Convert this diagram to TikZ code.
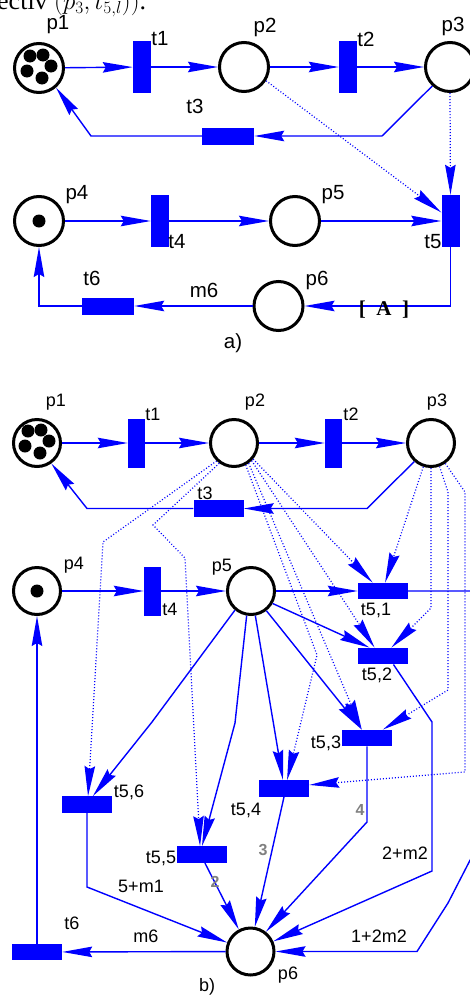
\documentclass[tikz,border=0pt]{standalone}
\usepackage{fontspec}
\setmainfont{Liberation Sans}
\newfontfamily\serifA{Liberation Serif}
\usetikzlibrary{arrows.meta,calc}
\definecolor{pblue}{RGB}{0,0,255}
\definecolor{lgrey}{RGB}{128,128,128}
\begin{document}
\begin{tikzpicture}[x=1pt,y=-1pt,
  placeA/.style={circle, draw=black, line width=3pt, minimum size=49pt, inner sep=0pt},
  placeB/.style={circle, draw=black, line width=3pt, minimum size=47pt, inner sep=0pt},
  vtransA/.style={rectangle, fill=pblue, minimum width=18pt, minimum height=52pt, inner sep=0pt},
  htransA/.style={rectangle, fill=pblue, minimum width=52pt, minimum height=17pt, inner sep=0pt},
  vtransB/.style={rectangle, fill=pblue, minimum width=17pt, minimum height=49pt, inner sep=0pt},
  htransB/.style={rectangle, fill=pblue, minimum width=50pt, minimum height=16.5pt, inner sep=0pt},
  tok/.style={circle, fill=black, minimum size=13pt, inner sep=0pt},
  arc/.style={draw=pblue, line width=1.4pt, -{Stealth[length=30pt,width=10.5pt,inset=3pt]}},
  darc/.style={arc, line width=1.2pt, dash pattern=on 1pt off 2pt},
  labA/.style={font=\fontsize{20.5}{24}\selectfont, inner sep=0pt},
  labB/.style={font=\fontsize{18}{21}\selectfont, inner sep=0pt},
  num/.style={font=\fontsize{16}{19}\selectfont\bfseries, text=lgrey, inner sep=0pt}]
\useasboundingbox (0,0) rectangle (470,996);

% cut-off header text
\node[font=\fontsize{26}{30}\selectfont\serifA, anchor=base west, inner sep=0pt] (hdr) at (-3,9.5) {ectiv $(p_3, t_{5,l}))$.};

% ---------------- part a ----------------
\node[placeA] (ap1) at (39,68) {};
\node[vtransA] (at1) at (142,67) {};
\node[placeA] (ap2) at (244,67) {};
\node[vtransA] (at2) at (348,67) {};
\node[placeA] (ap3) at (450,67) {};
\node[htransA] (at3) at (228,136) {};
\node[placeA] (ap4) at (39,221) {};
\node[vtransA] (at4) at (160,221) {};
\node[placeA] (ap5) at (295,221) {};
\node[vtransA] (at5) at (450.5,221) {};
\node[placeA] (ap6) at (278.5,306) {};
\node[htransA] (at6) at (108,306) {};

\node[tok] (ak1) at ($(ap1)+(-9,-12)$) {};
\node[tok] (ak2) at ($(ap1)+(4,-13)$) {};
\node[tok] (ak3) at ($(ap1)+(12,-2)$) {};
\node[tok] (ak4) at ($(ap1)+(-12,3)$) {};
\node[tok] (ak5) at ($(ap1)+(3,10)$) {};
\node[tok] (ak6) at (ap4) {};

\draw[arc] (ap1) -- (at1);
\draw[arc] (at1) -- (ap2);
\draw[arc] (ap2) -- (at2);
\draw[arc] (at2) -- (ap3);
\draw[arc] (ap3.227) -- (382,136) -- (at3.east);
\draw[arc] (at3.west) -- (91,136) -- (ap1.311);
\draw[arc] (ap4) -- (at4);
\draw[arc] (at4) -- (ap5);
\draw[arc] (ap5) -- (at5);
\draw[darc] (ap2.328) -- (at5.137);
\draw[darc] (ap3.south) -- (at5.north);
\draw[arc] (at5.south) |- (ap6.east);
\draw[arc] (ap6) -- (at6);
\draw[arc] (at6.west) -| (ap4.south);

\node[labA] (lap1) at (58,25) {p1};
\node[labA] (lat1) at (160,39) {t1};
\node[labA] (lap2) at (265,27) {p2};
\node[labA] (lat2) at (366,39) {t2};
\node[labA] (lap3) at (453,26) {p3};
\node[labA] (lat3) at (195,106) {t3};
\node[labA] (lap4) at (77,195) {p4};
\node[labA] (lat4) at (177,242) {t4};
\node[labA] (lap5) at (333,195) {p5};
\node[labA] (lat5) at (433,242) {t5};
\node[labA] (lat6) at (92,278) {t6};
\node[labA] (lam6) at (204,290) {m6};
\node[labA] (lap6) at (317,280) {p6};
\node[font=\fontsize{21}{25}\selectfont\serifA\bfseries, inner sep=0pt] (lA) at (384,310) {[\enspace A\enspace]};
\node[labA] (la) at (233,343) {a)};

% ---------------- part b ----------------
\node[placeB] (bp1) at (37,443) {};
\node[vtransB] (bt1) at (136.5,443) {};
\node[placeB] (bp2) at (234,443) {};
\node[vtransB] (bt2) at (333.5,443) {};
\node[placeB] (bp3) at (431,443) {};
\node[htransB] (bt3) at (218.5,508.5) {};
\node[placeB] (bp4) at (37,591) {};
\node[vtransB] (bt4) at (152.5,591) {};
\node[placeB] (bp5) at (251,591) {};
\node[htransB] (bt51) at (383,591) {};
\node[htransB] (bt52) at (383,656) {};
\node[htransB] (bt53) at (367,738) {};
\node[htransB] (bt54) at (284,788.5) {};
\node[htransB] (bt55) at (202,854.5) {};
\node[htransB] (bt56) at (87,804.5) {};
\node[placeB] (bp6) at (250.5,951.5) {};
\node[htransB] (bt6) at (37,952) {};

\node[tok] (bk1) at ($(bp1)+(-9,-12)$) {};
\node[tok] (bk2) at ($(bp1)+(4,-13)$) {};
\node[tok] (bk3) at ($(bp1)+(12,-2)$) {};
\node[tok] (bk4) at ($(bp1)+(-12,3)$) {};
\node[tok] (bk5) at ($(bp1)+(3,10)$) {};
\node[tok] (bk6) at (bp4) {};

\draw[arc] (bp1) -- (bt1);
\draw[arc] (bt1) -- (bp2);
\draw[arc] (bp2) -- (bt2);
\draw[arc] (bt2) -- (bp3);
\draw[arc] (bp3.228) -- (367,508.5) -- (bt3.east);
\draw[arc] (bt3.west) -- (87,508.5) -- (bp1.305);
\draw[arc] (bp4) -- (bt4);
\draw[arc] (bt4) -- (bp5);
\draw[arc] (bp5) -- (bt51);
\draw[arc] (bp5.330) -- (bt52.148);
\draw[arc] (bp5.308) -- (bt53.122);
\draw[arc] (bp5.280) -- (bt54.97);
\draw[arc] (bp5.260) -- (235,723) -- (bt55.north);
\draw[arc] (bp5.230) -- (152,722) -- (bt56.55);

\draw[arc] (bt56.south) -- (87,887) -- (bp6.159);
\draw[arc] (bt55.289) -- (bp6.118);
\draw[arc] (bt54.south) -- (bp6.80);
\draw[arc] (bt53.south) -- (367,822) -- (bp6.52);
\draw[arc] (bt52.321) -- (432,722) -- (432,871) -- (bp6.24);
\draw[arc] (bt51.east) -- (482,591) -- (482,837) -- (448,903) -- (417,951.5) -- (bp6.east);
\draw[arc] (bp6) -- (bt6);
\draw[arc] (bt6.north) -- (bp4.south);

\draw[darc] (bp2.226) -- (103,542) -- (bt56.83);
\draw[darc] (bp2.234) -- (153,525) -- (185,558) -- (bt55.103);
\draw[darc] (bp2.298) -- (317,655) -- (bt54.70);
\draw[darc] (bp2.306) -- (bt53.122);
\draw[darc] (bp2.315) -- (bt52.135);
\draw[darc] (bp2.320) -- (bt51.141);
\draw[darc] (bp3.252) -- (bt51.76);
\draw[darc] (bp3.south) -- (431,608) -- (bt52.45);
\draw[darc] (bp3.290) -- (448,492) -- (448,690) -- (bt53.28);
\draw[darc] (bp3.305) -- (465,492) -- (465,772) -- (bt54.8);

\node[labB] (lbp1) at (56,402) {p1};
\node[labB] (lbt1) at (153,414) {t1};
\node[labB] (lbp2) at (255,402) {p2};
\node[labB] (lbt2) at (351,414) {t2};
\node[labB] (lbp3) at (437,402) {p3};
\node[labB] (lbt3) at (205,493) {t3};
\node[labB] (lbp4) at (74,565) {p4};
\node[labB] (lbt4) at (170,609) {t4};
\node[labB] (lbp5) at (222,567) {p5};
\node[labB] (lbt51) at (376,610) {t5,1};
\node[labB] (lbt52) at (377,675) {t5,2};
\node[labB] (lbt53) at (326,743) {t5,3};
\node[labB] (lbt54) at (246,810) {t5,4};
\node[labB] (lbt55) at (161,858) {t5,5};
\node[labB] (lbt56) at (129,792) {t5,6};
\node[labB] (lw1) at (141,886) {5+m1};
\node[num] (lw2) at (215,882) {2};
\node[num] (lw3) at (263,850) {3};
\node[num] (lw4) at (360,810) {4};
\node[labB] (lw5) at (405,853) {2+m2};
\node[labB] (lbt6) at (72,923) {t6};
\node[labB] (lbm6) at (146,936) {m6};
\node[labB] (lw6) at (379,936) {1+2m2};
\node[labB] (lbp6) at (288,975) {p6};
\node[labB, anchor=base] (lb) at (207,991) {b)};
\end{tikzpicture}
\end{document}
